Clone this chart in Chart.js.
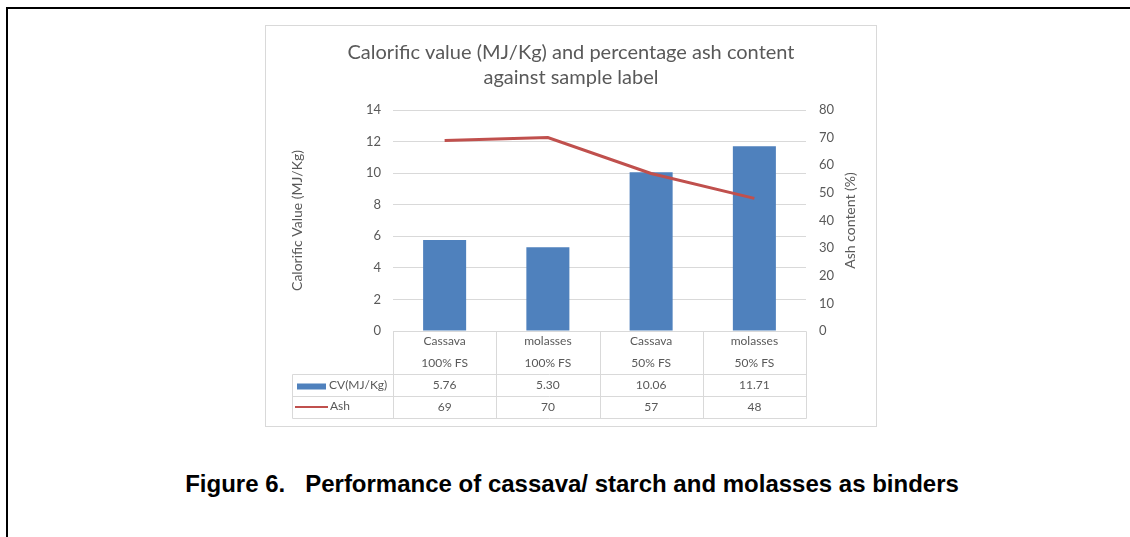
<!DOCTYPE html>
<html>
<head>
<meta charset="utf-8">
<title>Calorific value and ash content</title>
<script src="https://cdn.jsdelivr.net/npm/chart.js@4.4.0/dist/chart.umd.min.js"></script>
<style>
    body { margin: 0; background: #fff; }
    #page { position: relative; width: 1130px; height: 537px; overflow: hidden; }
    #rule { position: absolute; left: 6px; top: 7px; width: 1200px; height: 600px;
            border-left: 2px solid #000; border-top: 2px solid #000; }
    #frame { position: absolute; left: 265px; top: 25px; width: 610px; height: 400px;
             border: 1px solid #d9d9d9; }
    #caption { position: absolute; left: 0; top: 470px; width: 1144px; text-align: center;
               font: bold 24px "Liberation Sans", Arial, sans-serif; line-height: 28px;
               white-space: pre; color: #000; }
</style>
</head>
<body>
<div id="page">
    <div id="rule"></div>
    <div id="frame"><canvas id="ash-chart"></canvas></div>
    <div id="caption">Figure 6.   Performance of cassava/ starch and molasses as binders</div>
</div>
<script>
var categories = [['Cassava', '100% FS'], ['molasses', '100% FS'], ['Cassava', '50% FS'], ['molasses', '50% FS']];
var cvValues = [5.76, 5.30, 10.06, 11.71];
var ashValues = [69, 70, 57, 48];
var cvTicks = [0, 2, 4, 6, 8, 10, 12, 14];
var ashTicks = [0, 10, 20, 30, 40, 50, 60, 70, 80];
var seriesNames = ['CV(MJ/Kg)', 'Ash'];
var titleLines = ['Calorific value (MJ/Kg) and percentage ash content', 'against sample label'];
var cvAxisTitle = 'Calorific Value (MJ/Kg)';
var ashAxisTitle = 'Ash content (%)';

var BLUE = '#4f81bd';
var RED = '#c0504d';
var TEXT = '#595959';
var GRID = '#d9d9d9';
var FONT = 'Lato';

// excel style data table under the plot + both axis titles
var tablePlugin = {
    id: 'dataTable',
    afterDraw: function (chart) {
        var ctx = chart.ctx;
        var x = chart.scales.x;
        var area = chart.chartArea;
        var n = categories.length;
        var step = x.getPixelForValue(1) - x.getPixelForValue(0);
        var edges = [];
        for (var i = 0; i <= n; i++) {
            edges.push(Math.round(x.getPixelForValue(0) - step / 2 + i * step) + 0.5);
        }
        var left = edges[0], right = edges[n];
        var keyLeft = 26.5;
        var r0 = Math.round(area.bottom) + 0.5;
        var r1 = r0 + 43, r2 = r1 + 22, r3 = r2 + 22;

        function line(x1, y1, x2, y2) {
            ctx.beginPath();
            ctx.moveTo(x1, y1);
            ctx.lineTo(x2, y2);
            ctx.stroke();
        }

        ctx.save();
        ctx.strokeStyle = GRID;
        ctx.lineWidth = 1;
        line(left, r0, right, r0);
        [r1, r2, r3].forEach(function (y) { line(keyLeft, y, right, y); });
        edges.forEach(function (e) { line(e, r0, e, r3); });
        line(keyLeft, r1, keyLeft, r3);

        ctx.fillStyle = TEXT;
        ctx.font = '12px ' + FONT;
        ctx.textAlign = 'center';
        ctx.textBaseline = 'middle';
        for (var j = 0; j < n; j++) {
            var cx = x.getPixelForValue(j);
            ctx.fillText(categories[j][0], cx, r0 + 10);
            ctx.fillText(categories[j][1], cx, r0 + 32);
            ctx.fillText(cvValues[j].toFixed(2), cx, r1 + 11);
            ctx.fillText(String(ashValues[j]), cx, r2 + 11);
        }

        // legend keys
        ctx.fillStyle = BLUE;
        ctx.fillRect(31, r1 + 9, 29, 6);
        ctx.strokeStyle = RED;
        ctx.lineWidth = 2;
        line(29, r2 + 10.5, 62, r2 + 10.5);
        ctx.fillStyle = TEXT;
        ctx.textAlign = 'left';
        ctx.fillText(seriesNames[0], 63, r1 + 11);
        ctx.fillText(seriesNames[1], 64, r2 + 10);

        // axis titles, both read bottom to top
        var midY = (area.top + area.bottom) / 2;
        ctx.font = '14px ' + FONT;
        ctx.textAlign = 'center';
        ctx.save();
        ctx.translate(31, midY);
        ctx.rotate(-Math.PI / 2);
        ctx.fillText(cvAxisTitle, 0, 0);
        ctx.restore();
        ctx.save();
        ctx.translate(584, midY);
        ctx.rotate(-Math.PI / 2);
        ctx.fillText(ashAxisTitle, 0, 0);
        ctx.restore();
        ctx.restore();
    }
};

var ctx = document.getElementById('ash-chart').getContext('2d');
var chart = new Chart(ctx, {
    type: 'bar',
    data: {
        labels: categories,
        datasets: [
            {
                type: 'line',
                label: seriesNames[1],
                data: ashValues,
                yAxisID: 'y1',
                borderColor: RED,
                backgroundColor: RED,
                borderWidth: 3,
                pointRadius: 0,
                tension: 0,
                fill: false,
                order: 1
            },
            {
                type: 'bar',
                label: seriesNames[0],
                data: cvValues,
                yAxisID: 'y',
                backgroundColor: BLUE,
                borderWidth: 0,
                barPercentage: 0.4167,
                categoryPercentage: 1,
                order: 2
            }
        ]
    },
    options: {
        responsive: true,
        maintainAspectRatio: false,
        animation: false,
        devicePixelRatio: 1,
        layout: { padding: 0 },
        plugins: {
            legend: { display: false },
            tooltip: { enabled: false },
            title: {
                display: true,
                text: titleLines,
                color: TEXT,
                font: { family: FONT, size: 20, weight: 'normal', lineHeight: '25px' },
                padding: { top: 14, bottom: 20 }
            }
        },
        scales: {
            x: {
                grid: { display: false },
                border: { display: false },
                ticks: { display: false },
                afterFit: function (scale) { scale.height = 95; }
            },
            y: {
                position: 'left',
                min: 0,
                max: 14,
                grid: { color: GRID, drawTicks: false },
                border: { display: false },
                ticks: { color: TEXT, padding: 12, font: { family: FONT, size: 13 } },
                afterBuildTicks: function (scale) {
                    scale.ticks = cvTicks.map(function (v) { return { value: v }; });
                },
                afterFit: function (scale) { scale.width = 127; }
            },
            y1: {
                position: 'right',
                min: 0,
                max: 80,
                grid: { display: false, drawTicks: false },
                border: { display: false },
                ticks: { color: TEXT, padding: 13, font: { family: FONT, size: 13 } },
                afterBuildTicks: function (scale) {
                    scale.ticks = ashTicks.map(function (v) { return { value: v }; });
                },
                afterFit: function (scale) { scale.width = 70; }
            }
        }
    },
    plugins: [tablePlugin]
});
</script>
</body>
</html>
